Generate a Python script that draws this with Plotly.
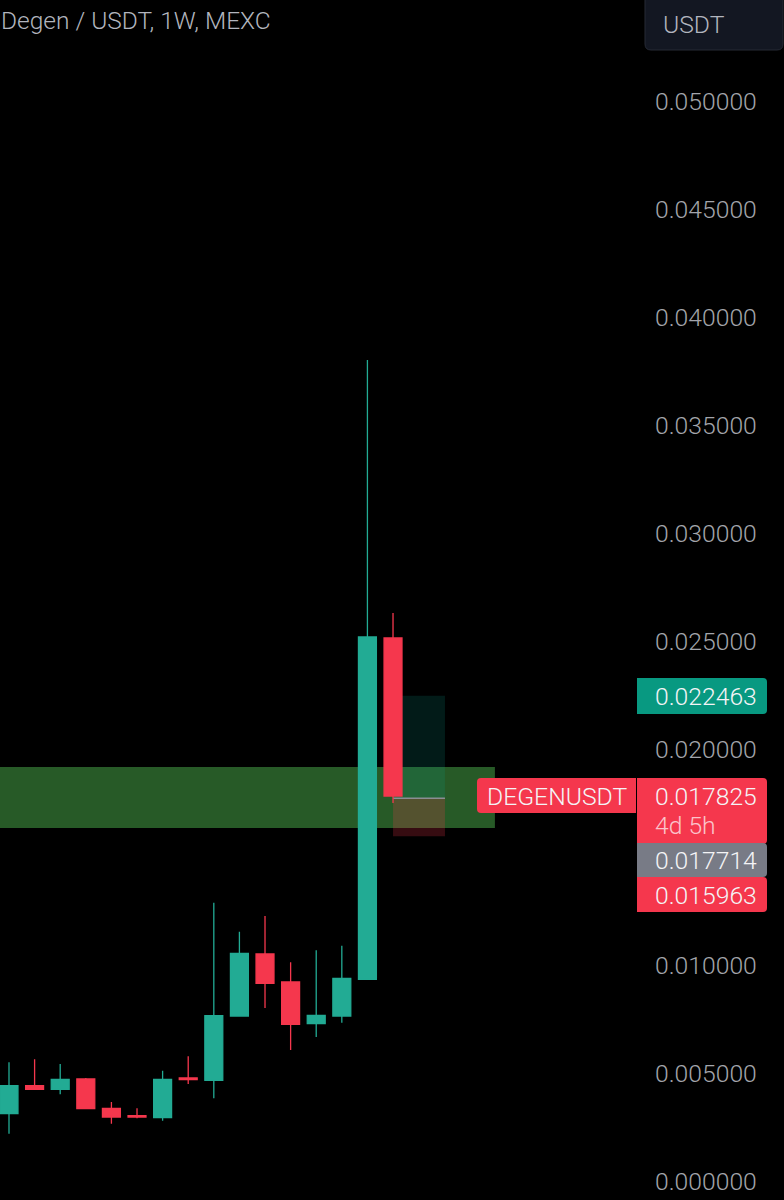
"""Degen / USDT weekly candles with a green zone and a position box, TradingView dark style."""
import plotly.graph_objects as go

# weekly candles
opens = [0.003116, 0.004412, 0.004245, 0.004722, 0.003366, 0.003025, 0.002931, 0.004769,
         0.004662, 0.007639, 0.010509, 0.009213, 0.007282, 0.007639, 0.009338, 0.025139]
highs = [0.005495, 0.005634, 0.005417, 0.004764, 0.003657, 0.003366, 0.005106, 0.005773,
         0.012884, 0.011542, 0.012269, 0.010125, 0.010680, 0.010894, 0.038009, 0.026296]
lows = [0.002190, 0.004245, 0.004014, 0.003329, 0.002653, 0.002903, 0.002792, 0.004491,
        0.003829, 0.007639, 0.008009, 0.006065, 0.006667, 0.007329, 0.009338, 0.017500]
closes = [0.004412, 0.004245, 0.004708, 0.003347, 0.002963, 0.002963, 0.004708, 0.004690,
          0.007653, 0.010542, 0.009153, 0.007255, 0.007671, 0.009384, 0.025185, 0.017825]
bars = list(range(len(opens)))

price_ticks = [0.0, 0.005, 0.01, 0.015, 0.02, 0.025, 0.03, 0.035, 0.04, 0.045, 0.05]
hidden_ticks = [0.015]  # covered by the price labels on the real chart

zone_low, zone_high, zone_end = 0.016343, 0.019167, 18.98
target, entry, stop = 0.022463, 0.017714, 0.015963
box_start, box_end = 15, 17.03

WIDTH, HEIGHT = 784, 1200
PLOT_W = 637
UP, DOWN = "#22ab94", "#f5374d"
TEXT = "#a3a5ab"
FONT_SIZE = 24.7


def px_x(x):
    return x / PLOT_W


def px_y(y):
    return 1 - y / HEIGHT


def round_box(x0, y0, x1, y1, color, r=(4, 4, 4, 4), line=None):
    # r = top left, top right, bottom right, bottom left, in pixels
    tl, tr, br, bl = r
    pts = [
        f"M {px_x(x0 + tl)} {px_y(y0)}",
        f"L {px_x(x1 - tr)} {px_y(y0)}",
        f"Q {px_x(x1)} {px_y(y0)} {px_x(x1)} {px_y(y0 + tr)}",
        f"L {px_x(x1)} {px_y(y1 - br)}",
        f"Q {px_x(x1)} {px_y(y1)} {px_x(x1 - br)} {px_y(y1)}",
        f"L {px_x(x0 + bl)} {px_y(y1)}",
        f"Q {px_x(x0)} {px_y(y1)} {px_x(x0)} {px_y(y1 - bl)}",
        f"L {px_x(x0)} {px_y(y0 + tl)}",
        f"Q {px_x(x0)} {px_y(y0)} {px_x(x0 + tl)} {px_y(y0)}",
        "Z",
    ]
    return dict(type="path", path=" ".join(pts), xref="paper", yref="paper", fillcolor=color,
                line=dict(color=line or color, width=1 if line else 0), layer="above")


def label(x, y, text, color="#f4f4f6", size=FONT_SIZE, weight=300):
    return dict(x=px_x(x), y=px_y(y), xref="paper", yref="paper", text=text, showarrow=False,
                xanchor="left", yanchor="middle", align="left",
                font=dict(family="Roboto", size=size, color=color, weight=weight))


fig = go.Figure(go.Candlestick(
    x=bars, open=opens, high=highs, low=lows, close=closes,
    increasing=dict(line=dict(color=UP, width=1.3), fillcolor=UP),
    decreasing=dict(line=dict(color=DOWN, width=1.3), fillcolor=DOWN),
    whiskerwidth=0,
    hoverinfo="skip",
))

shapes = [
    # support zone
    dict(type="rect", x0=-1, x1=zone_end, y0=zone_low, y1=zone_high, layer="below",
         fillcolor="#275a27", line_width=0),
    # long position box
    dict(type="rect", x0=box_start, x1=box_end, y0=entry, y1=target, layer="below",
         fillcolor="rgba(10,170,150,0.16)", line_width=0),
    dict(type="rect", x0=box_start, x1=box_end, y0=stop, y1=entry, layer="below",
         fillcolor="rgba(247,55,79,0.22)", line_width=0),
    dict(type="line", x0=box_start, x1=box_end, y0=entry, y1=entry, layer="below",
         line=dict(color="#8a8d94", width=1.5)),
    # price scale labels
    round_box(637, 678, 767, 714, "#089981", r=(0, 4, 4, 0)),
    round_box(637, 778, 767, 844, DOWN, r=(0, 4, 4, 0)),
    round_box(477, 778, 636, 813, DOWN, r=(4, 0, 0, 4)),
    round_box(637, 843, 767, 877, "#787b86", r=(0, 4, 4, 0)),
    round_box(637, 877, 767, 912, DOWN, r=(0, 4, 4, 0)),
    # currency button
    round_box(645, -6, 783, 50, "#131722", r=(6, 6, 6, 6), line="#262a35"),
]

annotations = [
    label(-1, 21, "Degen / USDT, 1W, MEXC", color="#b2b5be", size=24.5),
    label(661, 24, "USDT", color="#b2b5be"),
    label(653, 696, "0.022463"),
    label(485, 796, "DEGENUSDT"),
    label(653, 796, "0.017825"),
    label(653, 825, "4d 5h", color="#fbc4cb"),
    label(653, 860, "0.017714"),
    label(653, 895, "0.015963"),
]

visible_ticks = [t for t in price_ticks if t not in hidden_ticks]

fig.update_layout(
    width=WIDTH,
    height=HEIGHT,
    margin=dict(l=0, r=WIDTH - PLOT_W, t=0, b=0),
    paper_bgcolor="#000000",
    plot_bgcolor="#000000",
    boxgap=0,
    showlegend=False,
    shapes=shapes,
    annotations=annotations,
    xaxis=dict(range=[-0.3516, 24.53], visible=False, rangeslider_visible=False, fixedrange=True),
    yaxis=dict(
        range=[-0.00088, 0.054676],
        side="right",
        tickvals=visible_ticks,
        ticktext=[f"{t:.6f}" for t in visible_ticks],
        tickfont=dict(family="Roboto", size=FONT_SIZE, color=TEXT, weight=300),
        ticklabelstandoff=17,
        showgrid=False,
        zeroline=False,
        showline=False,
        ticks="",
        fixedrange=True,
    ),
)

fig.write_html("out.html", config={"displayModeBar": False},
               post_script="document.body.style.margin='0';document.body.style.background='#000';")
